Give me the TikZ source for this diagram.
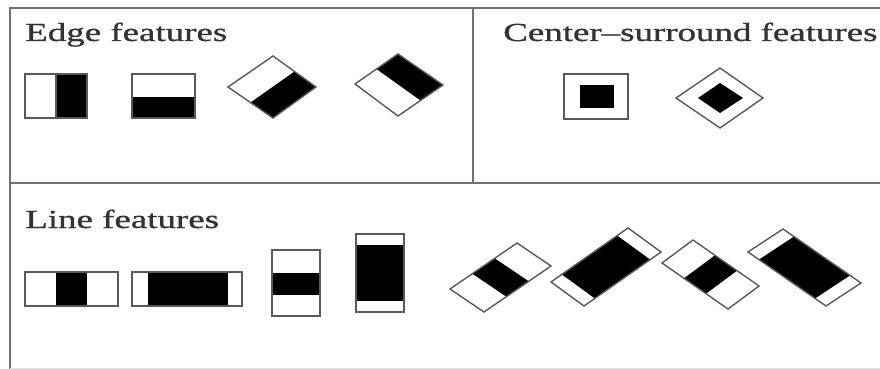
\documentclass[tikz,border=0pt]{standalone}
\usepackage{fontspec}
\setmainfont{Liberation Serif}
\newfontfamily\ttlfont[FakeBold=0.8]{Liberation Serif}
\usetikzlibrary{calc}
\tikzset{
  frameline/.style={draw=black!55, line width=2pt},
  haar/.style={draw=black!65, line width=1.4pt, fill=white, line join=miter},
  blk/.style={fill=black, draw=none},
  ttl/.style={anchor=base west, inner sep=0pt, xscale=1.42, text=black!80, font=\ttlfont\fontsize{26}{30}\selectfont}
}
\begin{document}
\begin{tikzpicture}[x=1pt,y=-1pt]
\useasboundingbox (0,0) rectangle (880,369);
% frame
\draw[frameline] (10,369) -- (10,8) -- (880,8);
\draw[frameline] (10,183) -- (880,183);
\draw[frameline] (473,8) -- (473,183);
\draw[draw=black!10, line width=1pt] (10,368.5) -- (880,368.5);
% titles
\node[ttl] (edge) at (25,41) {Edge features};
\node[ttl] (center) at (503,41) {Center\textendash surround features};
\node[ttl] (line) at (25,228) {Line features};
% edge features
\fill[blk] (56,74) rectangle (87,118);
\draw[haar, fill=none] (25,74) rectangle (87,118);
\draw[haar, fill=none] (56,74) -- (56,118);
\fill[blk] (132,97) rectangle (195,118);
\draw[haar, fill=none] (132,74) rectangle (195,118);
\fill[blk] (250.5,102.5) -- (294.5,71.5) -- (316,87) -- (273,118) -- cycle;
\draw[haar, fill=none] (228,87) -- (273,56) -- (316,87) -- (273,118) -- cycle;
\fill[blk] (376.5,69) -- (398,54) -- (443,85) -- (420.5,100.5) -- cycle;
\draw[haar, fill=none] (355,84) -- (398,54) -- (443,85) -- (398,116) -- cycle;
% center-surround
\draw[haar] (564,74) rectangle (628,119);
\fill[blk] (580,85) rectangle (614,108);
\draw[haar] (676,98) -- (720,68) -- (763,98) -- (720,128) -- cycle;
\fill[blk] (698,98) -- (720,83) -- (743,98) -- (720,113) -- cycle;
% line features
\fill[blk] (56,272) rectangle (87,306);
\draw[haar, fill=none] (25,272) rectangle (118,306);
\fill[blk] (148,272) rectangle (228,306);
\draw[haar, fill=none] (132,272) rectangle (242,306);
\fill[blk] (272,273) rectangle (320,295);
\draw[haar, fill=none] (272,250) rectangle (320,316);
\fill[blk] (356,245) rectangle (404,301);
\draw[haar, fill=none] (356,234) rectangle (404,312);
% rotated line features
\fill[blk] (472.3,273.7) -- (494.7,258.3) -- (528.7,281.3) -- (506.3,296.7) -- cycle;
\draw[haar, fill=none] (450,289) -- (517,243) -- (551,266) -- (484,312) -- cycle;
\fill[blk] (561.8,274.4) -- (617.2,235.6) -- (650.2,259.6) -- (594.8,298.4) -- cycle;
\draw[haar, fill=none] (551,282) -- (628,228) -- (661,252) -- (584,306) -- cycle;
\fill[blk] (684,278.3) -- (706,293.7) -- (737,270.7) -- (715,255.3) -- cycle;
\draw[haar, fill=none] (662,263) -- (728,309) -- (759,286) -- (693,240) -- cycle;
\fill[blk] (758.9,259.6) -- (815.1,298.4) -- (850.1,275.4) -- (793.9,236.6) -- cycle;
\draw[haar, fill=none] (748,252) -- (826,306) -- (861,283) -- (783,229) -- cycle;
\end{tikzpicture}
\end{document}
